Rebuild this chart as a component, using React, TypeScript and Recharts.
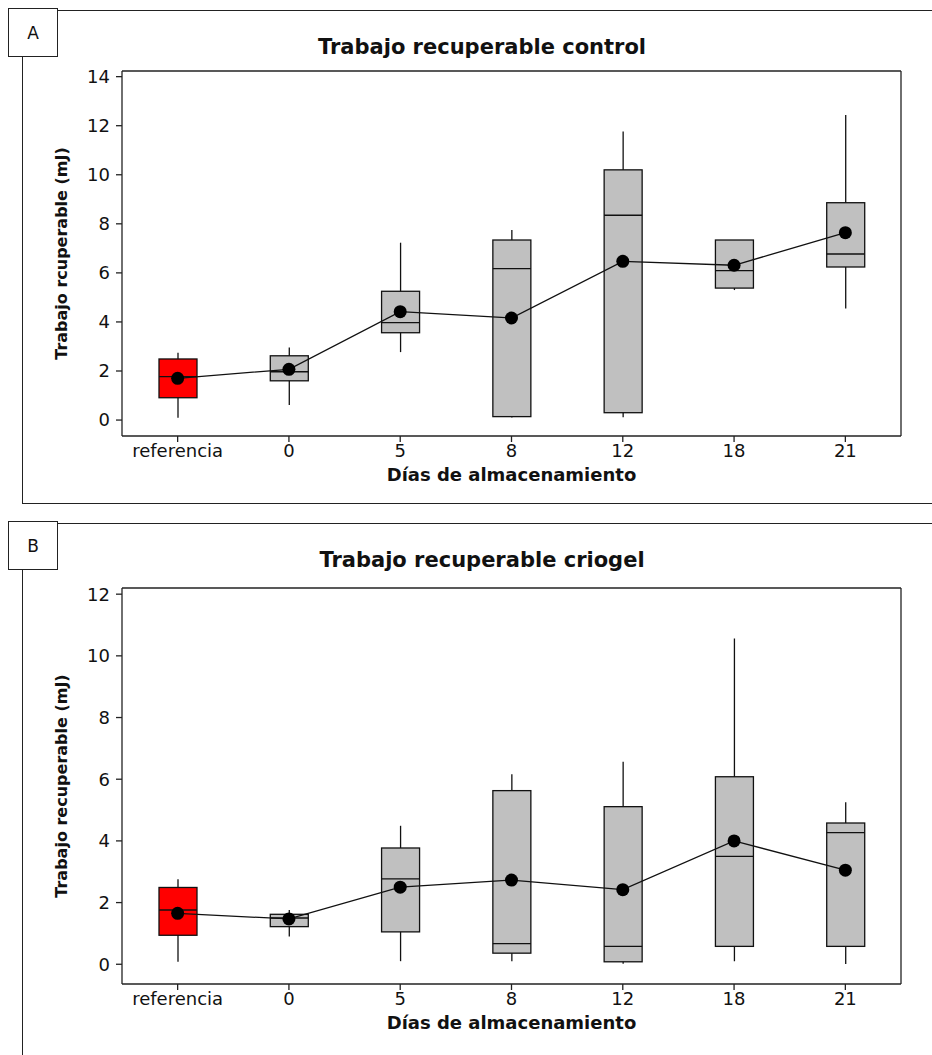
import { Bar, ComposedChart, Line, XAxis, YAxis } from "recharts";

const categories = ["referencia", "0", "5", "8", "12", "18", "21"];

// panel A, control
const lowA = [0.09, 0.61, 2.77, 0.1, 0.11, 5.3, 4.55];
const q1A = [0.91, 1.6, 3.56, 0.14, 0.3, 5.38, 6.24];
const medianA = [1.77, 1.97, 3.97, 6.17, 8.35, 6.09, 6.77];
const q3A = [2.49, 2.62, 5.25, 7.34, 10.2, 7.34, 8.86];
const highA = [2.74, 2.96, 7.23, 7.75, 11.76, 7.34, 12.44];
const meanA = [1.7, 2.07, 4.42, 4.16, 6.47, 6.31, 7.64];
const ticksA = [0, 2, 4, 6, 8, 10, 12, 14];

// panel B, criogel
const lowB = [0.08, 0.9, 0.1, 0.1, 0.02, 0.1, 0.01];
const q1B = [0.94, 1.22, 1.05, 0.36, 0.08, 0.58, 0.58];
const medianB = [1.76, 1.5, 2.77, 0.67, 0.58, 3.5, 4.27];
const q3B = [2.49, 1.62, 3.77, 5.63, 5.11, 6.08, 4.58];
const highB = [2.76, 1.76, 4.49, 6.16, 6.57, 10.56, 5.25];
const meanB = [1.65, 1.47, 2.5, 2.73, 2.42, 4.0, 3.05];
const ticksB = [0, 2, 4, 6, 8, 10, 12];

const FONT = "'DejaVu Sans', Verdana, sans-serif";
const INK = "#111";

type Row = {
  cat: string;
  range: [number, number];
  q1: number;
  median: number;
  q3: number;
  mean: number;
};

const build = (
  low: number[],
  q1: number[],
  med: number[],
  q3: number[],
  high: number[],
  mean: number[]
): Row[] =>
  categories.map((cat, i) => ({
    cat,
    range: [low[i], high[i]],
    q1: q1[i],
    median: med[i],
    q3: q3[i],
    mean: mean[i],
  }));

const dataA = build(lowA, q1A, medianA, q3A, highA, meanA);
const dataB = build(lowB, q1B, medianB, q3B, highB, meanB);

function BoxShape(props: any) {
  const { x, y, width, height, payload } = props;
  if (!payload) return null;
  const [lo, hi] = payload.range;
  const top = Math.min(y, y + height);
  const bottom = Math.max(y, y + height);
  const k = hi - lo > 0 ? (bottom - top) / (hi - lo) : 0;
  const yOf = (v: number) => bottom - (v - lo) * k;
  const cx = x + width / 2;
  const fill = payload.cat === "referencia" ? "#FF0000" : "#C0C0C0";
  return (
    <g stroke={INK} strokeWidth={1.3}>
      <line x1={cx} x2={cx} y1={top} y2={bottom} />
      <rect
        x={x}
        y={yOf(payload.q3)}
        width={width}
        height={yOf(payload.q1) - yOf(payload.q3)}
        fill={fill}
      />
      <line x1={x} x2={x + width} y1={yOf(payload.median)} y2={yOf(payload.median)} />
    </g>
  );
}

type PanelProps = {
  data: Row[];
  ticks: number[];
  domain: [number, number];
  yLabel: string;
  height: number;
  top: number;
  bottom: number;
};

function Panel({ data, ticks, domain, yLabel, height, top, bottom }: PanelProps) {
  const tick = { fill: INK, fontSize: 18, fontFamily: FONT };
  const labelStyle = { fill: INK, fontSize: 16, fontWeight: 700, fontFamily: FONT };
  return (
    <ComposedChart
      width={932}
      height={height}
      data={data}
      margin={{ top: top - 1, right: 30, left: 0, bottom }}
    >
      <XAxis
        dataKey="cat"
        interval={0}
        height={50}
        tick={tick}
        tickSize={6}
        tickMargin={2}
        stroke="#222"
        strokeWidth={1.3}
        label={{
          value: "Días de almacenamiento",
          position: "insideBottom",
          offset: 5,
          style: { ...labelStyle, fontSize: 18 },
        }}
      />
      {/* top + right axes only close the plot frame */}
      <XAxis
        xAxisId="top"
        dataKey="cat"
        orientation="top"
        height={1}
        tick={false}
        tickLine={false}
        stroke="#222"
        strokeWidth={1.3}
      />
      <YAxis
        type="number"
        domain={domain}
        ticks={ticks}
        allowDataOverflow
        width={122}
        tick={tick}
        tickSize={6}
        tickMargin={6}
        stroke="#222"
        strokeWidth={1.3}
        label={{ value: yLabel, angle: -90, position: "center", style: labelStyle }}
      />
      <YAxis
        yAxisId="right"
        type="number"
        orientation="right"
        domain={domain}
        allowDataOverflow
        width={1}
        tick={false}
        tickLine={false}
        stroke="#222"
        strokeWidth={1.3}
      />
      <Bar dataKey="range" barSize={38} shape={BoxShape} isAnimationActive={false} />
      <Line
        dataKey="mean"
        type="linear"
        stroke={INK}
        strokeWidth={1.3}
        dot={{ r: 6.5, fill: "#000", stroke: "#000", strokeWidth: 0 }}
        activeDot={false}
        isAnimationActive={false}
      />
      <Line
        dataKey="mean"
        xAxisId="top"
        yAxisId="right"
        stroke="none"
        dot={false}
        activeDot={false}
        legendType="none"
        isAnimationActive={false}
      />
    </ComposedChart>
  );
}

const line = "1.5px solid #222";

function Frame({ top, letter, bottomLine }: { top: number; letter: string; bottomLine?: number }) {
  return (
    <>
      <div
        style={{
          position: "absolute",
          left: 8,
          top,
          width: 50,
          height: 49,
          border: line,
          fontFamily: FONT,
          fontSize: 17,
          color: INK,
          display: "flex",
          alignItems: "center",
          justifyContent: "center",
          background: "#fff",
          boxSizing: "border-box",
        }}
      >
        {letter}
      </div>
      <div style={{ position: "absolute", left: 58, top: top + 2, width: 874, borderTop: line }} />
      <div
        style={{
          position: "absolute",
          left: 22,
          top: top + 49,
          height: (bottomLine ?? 1055) - top - 49,
          borderLeft: line,
        }}
      />
      {bottomLine !== undefined && (
        <div style={{ position: "absolute", left: 22, top: bottomLine, width: 910, borderTop: line }} />
      )}
    </>
  );
}

function Title({ text, baseline }: { text: string; baseline: number }) {
  return (
    <div
      style={{
        position: "absolute",
        left: 482,
        top: baseline - 18,
        transform: "translateX(-50%)",
        whiteSpace: "nowrap",
        fontFamily: FONT,
        fontWeight: 700,
        fontSize: 21,
        lineHeight: "21px",
        color: INK,
      }}
    >
      {text}
    </div>
  );
}

export default function App() {
  return (
    <div
      style={{
        position: "absolute",
        left: 0,
        top: 0,
        width: 932,
        height: 1055,
        background: "#fff",
        overflow: "hidden",
      }}
    >
      <div style={{ position: "absolute", left: 0, top: 0 }}>
        <Panel
          data={dataA}
          ticks={ticksA}
          domain={[-0.65, 14.23]}
          yLabel="Trabajo rcuperable (mJ)"
          height={510}
          top={71}
          bottom={24}
        />
      </div>
      <div style={{ position: "absolute", left: 0, top: 512 }}>
        <Panel
          data={dataB}
          ticks={ticksB}
          domain={[-0.64, 12.2]}
          yLabel="Trabajo recuperable (mJ)"
          height={530}
          top={76}
          bottom={8}
        />
      </div>
      <Frame top={8} letter="A" bottomLine={503} />
      <Frame top={521} letter="B" />
      <Title text="Trabajo recuperable control" baseline={55} />
      <Title text="Trabajo recuperable criogel" baseline={568} />
    </div>
  );
}
